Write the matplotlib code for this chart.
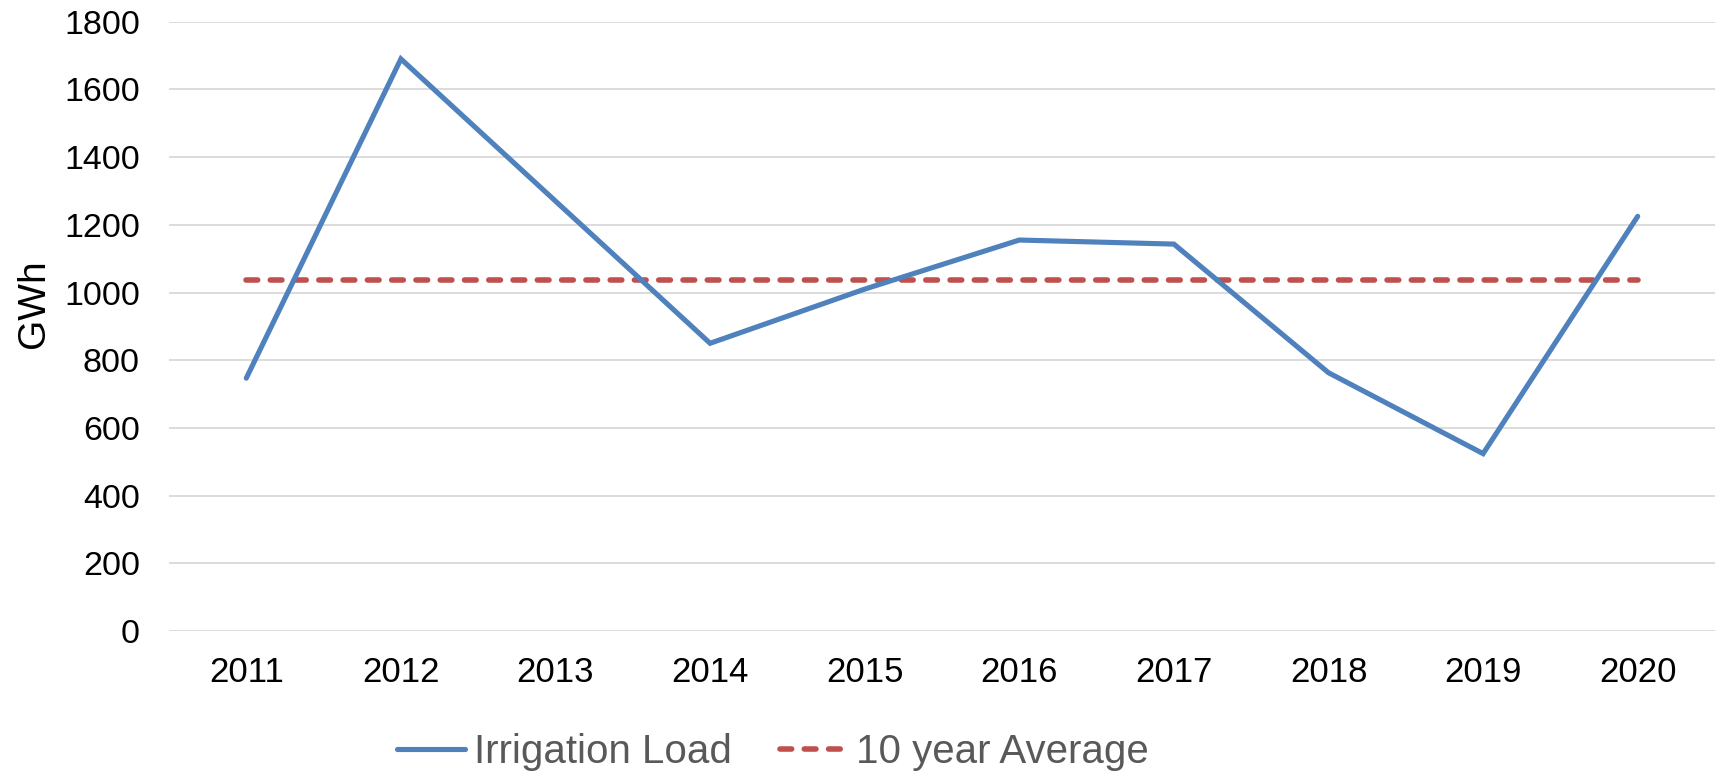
import numpy as np
import matplotlib.pyplot as plt

plt.rcParams.update({
    'font.family': ['Liberation Sans', 'DejaVu Sans'],
    'figure.dpi': 100,
})

years = ['2011', '2012', '2013', '2014', '2015', '2016', '2017', '2018', '2019', '2020']
irrigation_load = [747, 1690, 1270, 850, 1010, 1155, 1143, 763, 524, 1225]
ten_year_avg = 1037
y_ticks = [0, 200, 400, 600, 800, 1000, 1200, 1400, 1600, 1800]

BLUE = '#4f81bd'
RED = '#c0504d'
GRID = '#d9d9d9'


def make_chart():
    fig = plt.figure(figsize=(17.23, 7.74))
    ax = fig.add_axes([169 / 1723, 1 - 631 / 774, 1546 / 1723, 609.3 / 774])

    x = np.arange(len(years))
    ax.plot(x, irrigation_load, color=BLUE, lw=3.7, solid_joinstyle='miter',
            solid_capstyle='round', label='Irrigation Load', zorder=3)
    ax.plot(x, [ten_year_avg] * len(years), color=RED, lw=4.0,
            dashes=(2.1, 2.27), dash_capstyle='round',
            label='10 year Average', zorder=2)

    ax.set_xlim(-0.5, len(years) - 0.5)
    ax.set_ylim(0, 1800)
    ax.set_yticks(y_ticks)
    ax.set_xticks(x)
    ax.set_xticklabels(years)

    ax.grid(axis='y', color=GRID, lw=1.3)
    ax.set_axisbelow(True)
    for side in ['top', 'right', 'left', 'bottom']:
        ax.spines[side].set_visible(False)
    ax.tick_params(axis='both', length=0)
    ax.tick_params(axis='x', labelsize=25, pad=18, colors='black')
    ax.tick_params(axis='y', labelsize=24.5, pad=21, colors='black')

    ax.set_ylabel('GWh', fontsize=28)
    ax.yaxis.set_label_coords(-0.076, 0.537)

    leg = fig.legend(loc='center', bbox_to_anchor=(773 / 1723, 1 - 752 / 774),
                     ncol=2, frameon=False, fontsize=29, handlelength=1.7,
                     handletextpad=0.2, columnspacing=1.2)
    for t in leg.get_texts():
        t.set_color('#595959')

    fig.savefig('out.png', dpi=100)


if __name__ == '__main__':
    make_chart()
